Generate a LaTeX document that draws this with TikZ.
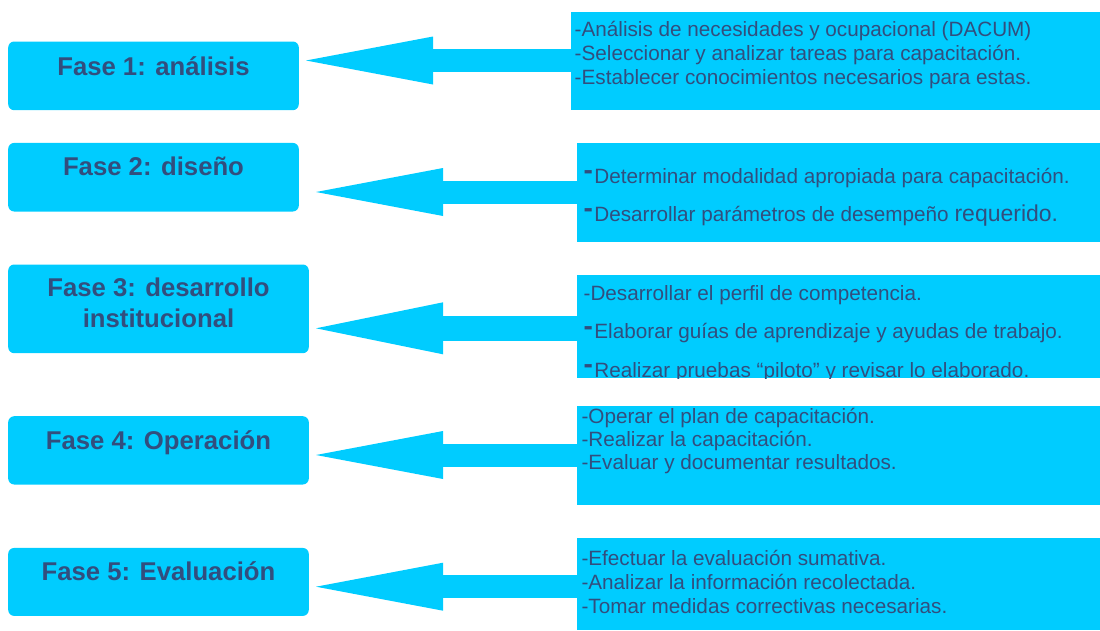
\documentclass[tikz,border=0pt]{standalone}
\usepackage{fontspec}
\setmainfont{Liberation Sans}
\usetikzlibrary{arrows.meta,calc,positioning}
\definecolor{fasecyan}{RGB}{0,204,255}
\definecolor{fasetext}{RGB}{50,78,126}
\tikzstyle{fase box}=[rectangle,rounded corners=6pt,fill=fasecyan,inner sep=0pt,anchor=north west]
\tikzstyle{fase label}=[font=\bfseries\fontsize{25.7}{31}\selectfont,text=fasetext,align=center,inner sep=0pt]
\tikzstyle{detail box}=[rectangle,fill=fasecyan,inner sep=0pt,anchor=north west]
\tikzstyle{detail line}=[font=\fontsize{20.7}{24}\selectfont,text=fasetext,anchor=base west,inner sep=0pt]
\tikzstyle{block arrow}=[fasecyan,line width=23pt,-{Triangle[length=127pt,width=48pt,line width=0pt 0 0]}]

\begin{document}
\begin{tikzpicture}[x=1pt,y=-1pt]
\def\fasedash{\raisebox{3.5pt}{\fontsize{28}{28}\selectfont\bfseries-}\hspace{1.5pt}}
\useasboundingbox (0,0) rectangle (1100,630);

    % phases on the left
    \foreach \name/\top/\bw/\bh in {1/41.3/290.6/68.7, 2/142.7/290.6/68.6, 3/264.3/300.6/88.7, 4/416/300.6/68.3, 5/547.7/300.6/68}
        \node[fase box, minimum width=\bw pt, minimum height=\bh pt] (F-\name) at (8,\top) {};

    % detail boxes on the right
    \foreach \name/\x/\top/\bw/\bh in {1/571/11.3/529/98.7, 2/577.2/142.7/522.8/99, 3/577.2/274.3/522.8/103.5, 4/577.2/405.7/522.8/99.3, 5/577.2/537.3/522.8/92.7}
        \node[detail box, minimum width=\bw pt, minimum height=\bh pt] (D-\name) at (\x,\top) {};

    % arrows
    \foreach \name/\x/\y in {1/306/60.5, 2/316/192, 3/316/328.3, 4/316/455, 5/316/586.7}
        \coordinate (T-\name) at (\x,\y);
    \foreach \name in {1,2,4,5}
        \draw[block arrow] (D-\name.west |- T-\name) -- (T-\name);
    \draw[block arrow, line width=25pt, -{Triangle[length=127pt,width=52pt,line width=0pt 0 0]}] (D-3.west |- T-3) -- (T-3);

    % phase names
    \foreach \name/\dy/\txt in {1/34/{Fase 1: análisis}, 2/32.3/{Fase 2: diseño}, 4/33/{Fase 4: Operación}, 5/32.6/{Fase 5: Evaluación}}
        \node[fase label, anchor=base] (L-\name) at ($(F-\name.north)+(0,\dy)$) {\txt};
    \node[fase label] (L-3) at ($(F-3.north)+(0,38.5)$) {Fase 3: desarrollo\\ institucional};

    % detail texts
    \foreach \txt [count=\i] in {{-Análisis de necesidades y ocupacional (DACUM)}, {-Seleccionar y analizar tareas para capacitación.}, {-Establecer conocimientos necesarios para estas.}}
        \node[detail line] (D-1-\i) at ($(D-1.north west)+(3.5,1.6+23.8*\i)$) {\txt};

    \foreach \txt [count=\i] in {{\fasedash Determinar modalidad apropiada para capacitación.}, {\fasedash Desarrollar parámetros de desempeño {\fontsize{23}{24}\selectfont requerido.}}}
        \node[detail line] (D-2-\i) at ($(D-2.north west)+(6.2,2.3+38*\i)$) {\txt};

    \begin{scope}
    \clip (D-3.north west) rectangle (D-3.south east);
    \foreach \txt [count=\i] in {{-Desarrollar el perfil de competencia.}, {\fasedash Elaborar guías de aprendizaje y ayudas de trabajo.}, {\fasedash Realizar pruebas “piloto” y revisar lo elaborado.}}
        \node[detail line] (D-3-\i) at ($(D-3.north west)+(6.2,-12.6+38.5*\i)$) {\txt};
    \end{scope}

    \foreach \txt [count=\i] in {{-Operar el plan de capacitación.}, {-Realizar la capacitación.}, {-Evaluar y documentar resultados.}}
        \node[detail line] (D-4-\i) at ($(D-4.north west)+(4.1,-5.3+22.9*\i)$) {\txt};

    \foreach \txt [count=\i] in {{-Efectuar la evaluación sumativa.}, {-Analizar la información recolectada.}, {-Tomar medidas correctivas necesarias.}}
        \node[detail line] (D-5-\i) at ($(D-5.north west)+(4.1,3.6+24.2*\i)$) {\txt};

\end{tikzpicture}
\end{document}
